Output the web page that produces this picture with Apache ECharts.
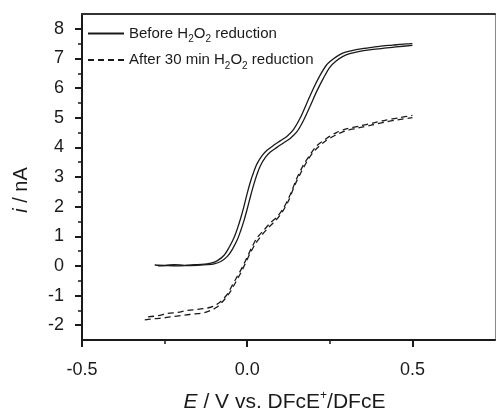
<!DOCTYPE html>
<html>
<head>
<meta charset="utf-8">
<script src="https://cdn.jsdelivr.net/npm/echarts@6/dist/echarts.min.js"></script>
<style>
html,body{margin:0;padding:0;background:#fff;}
#c{width:496px;height:412px;}
</style>
</head>
<body>
<div id="c"></div>
<script>
// Series names
const nameBefore = 'Before H2O2 reduction';
const nameAfter = 'After 30 min H2O2 reduction';

// Tick values / labels
const xMajorTicks = [-0.5, 0, 0.5];
const xMinorTicks = [-0.25, 0.25];
const yMajorTicks = [-2, -1, 0, 1, 2, 3, 4, 5, 6, 7, 8];
const yMinorTicks = [-1.5, -0.5, 0.5, 1.5, 2.5, 3.5, 4.5, 5.5, 6.5, 7.5];

// Before H2O2 reduction: forward scan (E in V, i in nA)
const beforeFwdE = [-0.28,-0.25,-0.22,-0.19,-0.16,-0.13,-0.11,-0.09,-0.07,-0.055,-0.04,-0.03,-0.02,-0.01,0.0,0.01,0.02,0.03,0.045,0.06,0.08,0.10,0.12,0.14,0.16,0.18,0.20,0.22,0.24,0.26,0.28,0.30,0.33,0.36,0.40,0.44,0.48,0.50];
const beforeFwdI = [0.03,0.02,0.04,0.02,0.04,0.06,0.09,0.18,0.36,0.62,0.95,1.25,1.6,2.0,2.45,2.85,3.18,3.45,3.72,3.9,4.07,4.22,4.37,4.6,4.98,5.48,5.98,6.42,6.78,6.98,7.13,7.22,7.3,7.35,7.41,7.45,7.49,7.5];
// Before H2O2 reduction: reverse scan
const beforeRevE = [-0.27,-0.24,-0.21,-0.18,-0.15,-0.12,-0.10,-0.08,-0.06,-0.045,-0.03,-0.02,-0.01,0.0,0.01,0.02,0.03,0.04,0.055,0.07,0.09,0.11,0.13,0.15,0.17,0.19,0.21,0.23,0.25,0.27,0.29,0.31,0.34,0.37,0.41,0.45,0.50];
const beforeRevI = [0.0,0.01,0.0,0.01,0.02,0.04,0.07,0.15,0.32,0.56,0.88,1.18,1.52,1.92,2.35,2.75,3.1,3.38,3.66,3.84,4.0,4.15,4.3,4.52,4.9,5.38,5.88,6.32,6.7,6.92,7.07,7.16,7.24,7.29,7.34,7.39,7.44];

// After 30 min H2O2 reduction: upper branch
const afterUpE = [-0.30,-0.27,-0.24,-0.21,-0.18,-0.15,-0.12,-0.10,-0.08,-0.06,-0.045,-0.03,-0.015,0.0,0.015,0.03,0.05,0.07,0.09,0.11,0.13,0.15,0.17,0.19,0.21,0.24,0.27,0.30,0.34,0.38,0.42,0.46,0.50];
const afterUpI = [-1.72,-1.68,-1.6,-1.57,-1.5,-1.47,-1.42,-1.35,-1.2,-0.95,-0.65,-0.35,-0.05,0.3,0.65,0.95,1.2,1.45,1.65,1.95,2.4,2.95,3.4,3.75,4.05,4.3,4.5,4.62,4.72,4.82,4.92,5.0,5.08];
// After 30 min H2O2 reduction: lower branch
const afterLoE = [-0.31,-0.28,-0.25,-0.22,-0.19,-0.16,-0.13,-0.11,-0.09,-0.07,-0.05,-0.035,-0.02,-0.005,0.01,0.025,0.045,0.065,0.085,0.105,0.125,0.145,0.165,0.185,0.205,0.235,0.265,0.295,0.335,0.375,0.415,0.455,0.50];
const afterLoI = [-1.82,-1.78,-1.75,-1.7,-1.66,-1.62,-1.58,-1.5,-1.38,-1.15,-0.85,-0.55,-0.25,0.1,0.45,0.75,1.05,1.3,1.52,1.8,2.2,2.75,3.2,3.6,3.9,4.2,4.4,4.55,4.65,4.75,4.85,4.93,5.0];

function pairs(xs, ys){ return xs.map((x,i)=>[x, ys[i]]); }

const FONT = '"Liberation Sans", Arial, sans-serif';
const INK = '#1a1a1a';
const xMin = -0.5, xMax = 0.75, yMin = -2.5, yMax = 8.5;

const chart = echarts.init(document.getElementById('c'), null, {renderer:'canvas'});

function lineSeries(name, data, dashed){
  return {
    type:'line', name:name, data:data, xAxisIndex:0, yAxisIndex:0,
    showSymbol:false, symbol:'none', smooth:0.3, animation:false,
    lineStyle:{color:INK, width:1.3, type: dashed ? [6,4] : 'solid'},
    itemStyle:{color:INK}
  };
}

const subRich = {
  s:{fontSize:10, fontFamily:FONT, color:INK, verticalAlign:'bottom', lineHeight:22}
};

chart.setOption({
  animation:false,
  backgroundColor:'#fff',
  grid:{left:82, right:1, top:14, bottom:72, show:false, containLabel:false, outerBoundsMode:'none'},
  legend:{
    orient:'vertical', left:82, top:21, itemWidth:36, itemHeight:14, itemGap:8,
    data:[nameBefore, nameAfter],
    itemStyle:{opacity:0},
    textStyle:{fontFamily:FONT, fontSize:15, color:INK, rich:subRich},
    formatter:function(n){ return n.replace('H2O2','H{s|2}O{s|2}'); }
  },
  xAxis:[
    {type:'value', min:xMin, max:xMax, position:'bottom',
     axisLine:{show:true, onZero:false, lineStyle:{color:INK, width:2}},
     axisTick:{show:true, customValues:xMajorTicks, length:7, lineStyle:{color:INK, width:2}},
     axisLabel:{customValues:xMajorTicks, formatter:v=>Number(v).toFixed(1), fontFamily:FONT, fontSize:18, color:INK, margin:21},
     splitLine:{show:false},
     name:'{i|E} / V vs. DFcE{sup|+}/DFcE', nameLocation:'middle', nameGap:50,
     nameTextStyle:{fontFamily:FONT, fontSize:21, color:INK, padding:[0,8,0,0],
       rich:{i:{fontStyle:'italic', fontFamily:FONT, fontSize:21, color:INK},
             sup:{fontSize:12, fontFamily:FONT, color:INK, verticalAlign:'top', lineHeight:24}}}
    },
    {type:'value', min:xMin, max:xMax, position:'bottom',
     axisLine:{show:false, onZero:false},
     axisTick:{show:true, customValues:xMinorTicks, length:4, lineStyle:{color:INK, width:1.5}},
     axisLabel:{show:false}, splitLine:{show:false}},
    {type:'value', min:xMin, max:xMax, position:'top',
     axisLine:{show:true, onZero:false, lineStyle:{color:'#333', width:2}},
     axisTick:{show:false}, axisLabel:{show:false}, splitLine:{show:false}}
  ],
  yAxis:[
    {type:'value', min:yMin, max:yMax, position:'left',
     axisLine:{show:true, onZero:false, lineStyle:{color:INK, width:2}},
     axisTick:{show:true, customValues:yMajorTicks, length:7, lineStyle:{color:INK, width:2}},
     axisLabel:{customValues:yMajorTicks, fontFamily:FONT, fontSize:18, color:INK, margin:18},
     splitLine:{show:false},
     name:'{i|i} / nA', nameLocation:'middle', nameGap:51,
     nameTextStyle:{fontFamily:FONT, fontSize:20, color:INK, padding:[0,26,0,0],
       rich:{i:{fontStyle:'italic', fontFamily:FONT, fontSize:20, color:INK}}}
    },
    {type:'value', min:yMin, max:yMax, position:'left',
     axisLine:{show:false, onZero:false},
     axisTick:{show:true, customValues:yMinorTicks, length:4, lineStyle:{color:INK, width:1.5}},
     axisLabel:{show:false}, splitLine:{show:false}},
    {type:'value', min:yMin, max:yMax, position:'right',
     axisLine:{show:true, onZero:false, lineStyle:{color:'#888', width:1}},
     axisTick:{show:false}, axisLabel:{show:false}, splitLine:{show:false}}
  ],
  series:[
    lineSeries(nameBefore, pairs(beforeFwdE, beforeFwdI), false),
    lineSeries(nameBefore, pairs(beforeRevE, beforeRevI), false),
    lineSeries(nameAfter, pairs(afterUpE, afterUpI), true),
    lineSeries(nameAfter, pairs(afterLoE, afterLoI), true)
  ]
});
</script>
</body>
</html>
